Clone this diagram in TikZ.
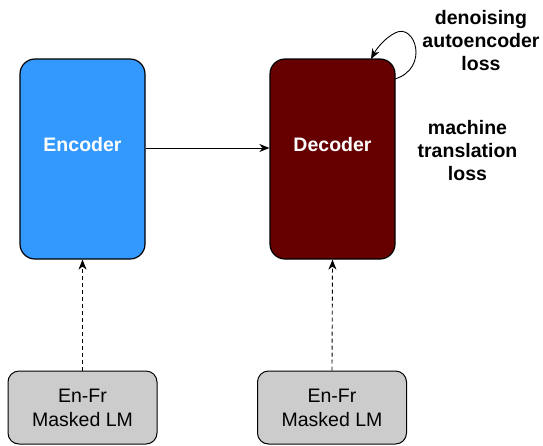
\documentclass[tikz,border=0pt]{standalone}
\usepackage{fontspec}
\setmainfont{Liberation Sans}
\usetikzlibrary{arrows.meta}
\definecolor{encblue}{HTML}{3399FF}
\definecolor{decred}{HTML}{660000}
\definecolor{mlmgray}{HTML}{CCCCCC}
\begin{document}
\begin{tikzpicture}[x=1pt,y=-1pt,
  bigbox/.style={draw=black,line width=1.2pt,rounded corners=15pt,minimum width=125pt,minimum height=200pt,inner sep=0pt},
  boxtext/.style={text=white,font=\fontsize{19.5}{23}\selectfont\bfseries,inner sep=0pt,anchor=base},
  lmbox/.style={draw=black,line width=1pt,rounded corners=11pt,fill=mlmgray,minimum width=149pt,minimum height=73pt,inner sep=0pt,align=center,font=\fontsize{19.5}{24}\selectfont},
  losslabel/.style={align=center,font=\fontsize{19.5}{23}\selectfont\bfseries,inner sep=0pt},
  arr/.style={-{Stealth[length=10pt,width=8pt,inset=3pt]},line width=0.9pt},
  darr/.style={arr,dashed,dash pattern=on 4pt off 3pt}
]
\useasboundingbox (0,0) rectangle (543,445);
\node[bigbox,fill=encblue] (enc) at (82.5,159) {};
\node[bigbox,fill=decred] (dec) at (332.5,159) {};
\node[boxtext] (enctext) at (82.5,151) {Encoder};
\node[boxtext] (dectext) at (332.5,151) {Decoder};
\node[lmbox] (lm1) at (82.5,407.5) {En-Fr\\Masked LM};
\node[lmbox] (lm2) at (332,407.5) {En-Fr\\Masked LM};
\node[losslabel] (dae) at (481,40.5) {denoising\\autoencoder\\loss};
\node[losslabel] (mt) at (467.5,151) {machine\\translation\\loss};
\draw[arr] (enc.east |- 0,148) -- (dec.west |- 0,148);
\draw[darr] (lm1.north) -- (enc.south);
\draw[darr] (lm2.north) -- (dec.south);
\coordinate (loopstart) at (395,79);
\coordinate (loopend) at (371,59);
\draw[arr] (loopstart) .. controls (430,68) and (415,22) .. (395,33) .. controls (385,38) and (377,48) .. (loopend);
\end{tikzpicture}
\end{document}
